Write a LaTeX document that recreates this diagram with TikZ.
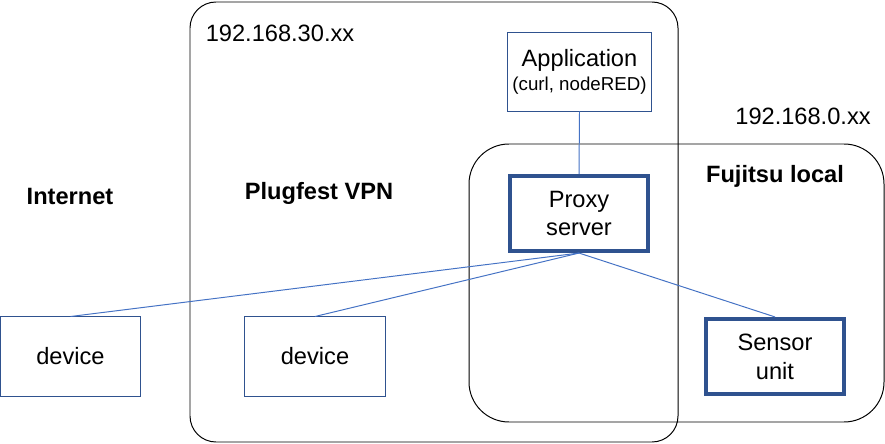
\documentclass[tikz,border=0pt]{standalone}
\usepackage{fontspec}
\setmainfont{Liberation Sans}
\definecolor{boxblue}{HTML}{2F528F}
\definecolor{linkblue}{HTML}{4472C4}
\tikzset{
  netbox/.style={draw=boxblue,fill=white,line width=0.7pt,align=center,font=\fontsize{16.8}{20.5}\selectfont},
  hostbox/.style={netbox,line width=2.9pt},
  zone/.style={draw=black,line width=0.7pt},
  link/.style={draw=linkblue,line width=0.7pt},
  zonelabel/.style={font=\fontsize{16.8}{20.5}\selectfont\bfseries},
  iplabel/.style={font=\fontsize{16.8}{20.5}\selectfont}
}
\begin{document}
\begin{tikzpicture}[x=0.025cm,y=-0.025cm]
\useasboundingbox (0,0) rectangle (885,444);
%\draw[help lines] (0,0) grid[step=50] (885,444);
\draw[zone,rounded corners=0.65cm] (190,2) rectangle (678,442);
\draw[zone,rounded corners=1cm] (469,144) rectangle (884,422);
\node[iplabel] (vpnip) at (280,33) {192.168.30.xx};
\node[iplabel] (localip) at (803,116) {192.168.0.xx};
\node[zonelabel] (internet) at (70,196) {Internet};
\node[zonelabel] (vpn) at (319,193) {Plugfest VPN};
\node[zonelabel] (fujitsu) at (775,176) {Fujitsu local};
\node[netbox,minimum width=3.525cm,minimum height=1.95cm] (app) at (579.5,72) {Application\\[-3pt]{\fontsize{13.3}{15}\selectfont(curl, nodeRED)}};
\node[hostbox,minimum width=3.45cm,minimum height=1.875cm] (proxy) at (579,213.5) {Proxy\\server};
\node[netbox,minimum width=3.5cm,minimum height=1.975cm] (devA) at (70.5,356.5) {device};
\node[netbox,minimum width=3.5cm,minimum height=1.975cm] (devB) at (315,356.5) {device};
\node[hostbox,minimum width=3.45cm,minimum height=1.875cm] (sensor) at (775,356.5) {Sensor\\unit};
\draw[link] (app.south) -- (proxy.north);
\draw[link] (proxy.south) -- (devA.north);
\draw[link] (proxy.south) -- (devB.north);
\draw[link] (proxy.south) -- (sensor.north);
\end{tikzpicture}
\end{document}
